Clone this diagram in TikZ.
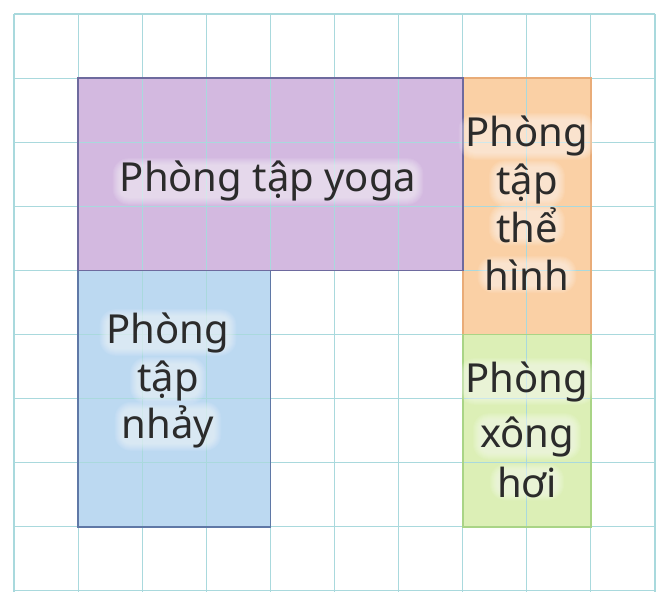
\documentclass[tikz,border=0pt]{standalone}
\usepackage{fontspec}
\setmainfont{Noto Sans}
\definecolor{gridc}{HTML}{A9D9DD}
\definecolor{yogaF}{HTML}{D3B9E0}
\definecolor{yogaB}{HTML}{6E6A9E}
\definecolor{nhayF}{HTML}{BCD9F1}
\definecolor{nhayB}{HTML}{5F78A6}
\definecolor{gymF}{HTML}{FAD0A5}
\definecolor{gymB}{HTML}{E9AC78}
\definecolor{xongF}{HTML}{DCEFB6}
\definecolor{xongB}{HTML}{A9D486}
\definecolor{txt}{HTML}{2B2B2B}
\pgfdeclarelayer{back}
\pgfdeclarelayer{mid}
\pgfsetlayers{back,mid,main}
\newcommand\halo[1]{%
  \begin{pgfonlayer}{mid}
  \foreach \d in {0,...,7}{%
    \fill[white,opacity=0.08,rounded corners=\d pt+9pt]
      ([shift={(-\d pt,-\d pt+4pt)}]#1.south west) rectangle ([shift={(\d pt,\d pt-4pt)}]#1.north east);}
  \end{pgfonlayer}}
\begin{document}
\begin{tikzpicture}[x=1pt,y=-1pt,
  room/.style={line width=1.8pt},
  gridline/.style={draw=gridc,line width=1.1pt},
  lbl/.style={font=\fontsize{40}{40}\selectfont,text=txt,anchor=base,inner sep=0pt}]
\useasboundingbox (0,0) rectangle (666,604);
\begin{pgfonlayer}{back}
\fill[white] (0,0) rectangle (666,604);
\def\u{64.1}
% fills
\fill[yogaF] (78.1,78.1) rectangle (462.7,270.4);
\fill[gymF] (462.7,78.1) rectangle (590.9,334.5);
\fill[xongF] (462.7,334.5) rectangle (590.9,526.8);
\fill[nhayF] (78.1,270.4) rectangle (270.4,526.8);
% grid
\foreach \i in {0,...,10} \draw[gridline] (14+\i*\u,14) -- (14+\i*\u,591.9);
\foreach \j in {0,...,9} \draw[gridline] (14,14+\j*\u) -- (655,14+\j*\u);
% borders
\draw[room,draw=gymB] (462.7,78.1) rectangle (590.9,334.5);
\draw[room,draw=xongB] (462.7,334.5) rectangle (590.9,526.8);
\draw[room,draw=nhayB] (78.1,270.4) rectangle (270.4,526.8);
\draw[room,draw=yogaB] (78.1,78.1) rectangle (462.7,270.4);
\end{pgfonlayer}
% labels
\node[lbl] (yoga) at (268,192) {Phòng tập yoga};
\node[lbl] (gymA) at (527,147) {Phòng};
\node[lbl] (gymB) at (527,194) {tập};
\node[lbl] (gymC) at (527,242) {thể};
\node[lbl] (gymD) at (527,290) {hình};
\node[lbl] (nhayA) at (168,343) {Phòng};
\node[lbl] (nhayB) at (168,391) {tập};
\node[lbl] (nhayC) at (168,438) {nhảy};
\node[lbl] (xongA) at (527,392) {Phòng};
\node[lbl] (xongB) at (527,447) {xông};
\node[lbl] (xongC) at (527,497) {hơi};
\foreach \n in {yoga,gymA,gymB,gymC,gymD,nhayA,nhayB,nhayC,xongA,xongB,xongC} {\halo{\n}}
\end{tikzpicture}
\end{document}
